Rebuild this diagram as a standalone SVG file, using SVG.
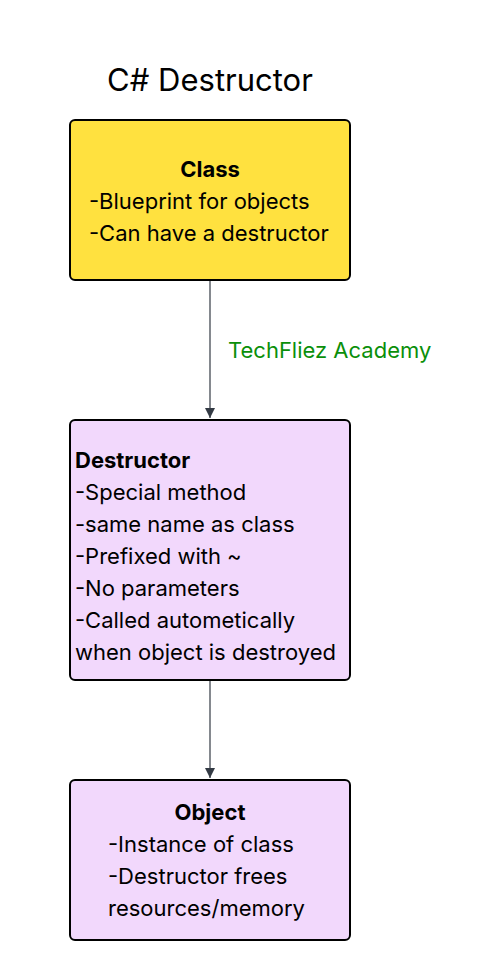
<svg xmlns="http://www.w3.org/2000/svg" width="490" height="980" viewBox="0 0 490 980">
<defs>
<style>
text{font-family:Inter,"Noto Sans","Liberation Sans",sans-serif;font-size:22px;fill:#000}
.b{font-weight:bold}
.box{stroke:#000;stroke-width:2}
.edge{stroke:#333a44;stroke-width:1.2;fill:none}
</style>
<marker id="ah" viewBox="0 0 10 10" refX="10" refY="5" markerWidth="10" markerHeight="12" markerUnits="userSpaceOnUse" orient="auto">
<path d="M0,0L10,5L0,10z" fill="#333a44"/>
</marker>
</defs>
<rect width="490" height="980" fill="#fff"/>
<text x="210" y="91" text-anchor="middle" style="font-size:31px">C# Destructor</text>
<g id="connectors">
<line class="edge" x1="210" y1="281" x2="210" y2="418" marker-end="url(#ah)"/>
<line class="edge" x1="210" y1="681" x2="210" y2="778" marker-end="url(#ah)"/>
<text x="228" y="358" style="fill:#0a8f0a">TechFliez Academy</text>
</g>
<g id="class">
<rect class="box" x="70" y="120" width="280" height="160" rx="5" fill="#ffe13f"/>
<text class="b" x="210" y="177" text-anchor="middle">Class</text>
<text x="89" y="209">-Blueprint for objects</text>
<text x="89" y="241">-Can have a destructor</text>
</g>
<g id="destructor">
<rect class="box" x="70" y="420" width="280" height="260" rx="5" fill="#f2d8fc"/>
<text class="b" x="75" y="468">Destructor</text>
<text x="75" y="500">-Special method</text>
<text x="75" y="532">-same name as class</text>
<text x="75" y="564">-Prefixed with ~</text>
<text x="75" y="596">-No parameters</text>
<text x="75" y="628">-Called autometically</text>
<text x="75" y="660">when object is destroyed</text>
</g>
<g id="object">
<rect class="box" x="70" y="780" width="280" height="160" rx="5" fill="#f2d8fc"/>
<text class="b" x="210" y="820" text-anchor="middle">Object</text>
<text x="108" y="852">-Instance of class</text>
<text x="108" y="884">-Destructor frees</text>
<text x="108" y="916">resources/memory</text>
</g>
</svg>
